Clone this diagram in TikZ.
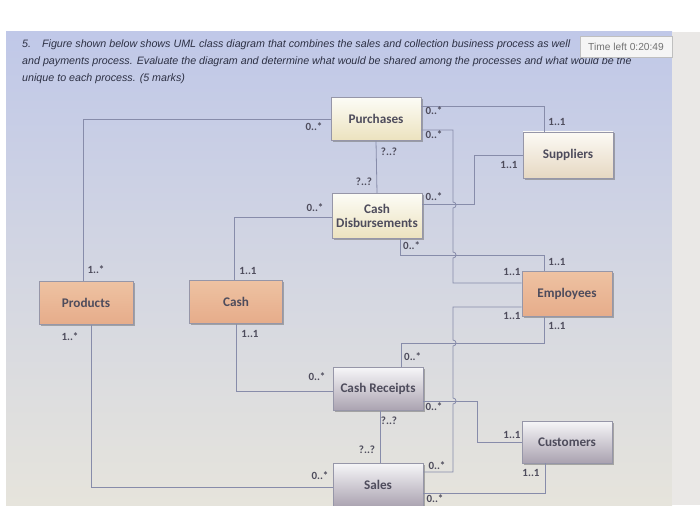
\documentclass[tikz,border=0pt]{standalone}
\usepackage{fontspec}
\setmainfont{Liberation Sans}
\newfontfamily\boxfont{Carlito}
\usetikzlibrary{shadows}

\definecolor{linegray}{RGB}{135,140,170}
\definecolor{labgray}{RGB}{78,76,92}
\definecolor{qtext}{RGB}{45,48,68}
\definecolor{boxedge}{RGB}{150,150,168}
\definecolor{screentop}{RGB}{192,200,232}
\definecolor{screenmid}{RGB}{236,238,241}
\definecolor{screenbot}{RGB}{230,228,220}
\definecolor{bezel}{RGB}{234,232,230}
\definecolor{creamtop}{RGB}{252,252,246}
\definecolor{creambot}{RGB}{236,226,190}
\definecolor{beigetop}{RGB}{252,250,245}
\definecolor{beigebot}{RGB}{230,216,194}
\definecolor{salmontop}{RGB}{238,194,162}
\definecolor{salmonbot}{RGB}{230,172,138}
\definecolor{greytop}{RGB}{246,246,248}
\definecolor{greybot}{RGB}{170,162,176}

\begin{document}
\begin{tikzpicture}[
    x=1pt, y=-1pt,
    cls/.style={rectangle, draw=boxedge, line width=0.6pt, minimum width=90pt, minimum height=43pt, align=center, text=labgray, font=\boxfont\bfseries\fontsize{13.2}{14}\selectfont, drop shadow={shadow xshift=1.5pt, shadow yshift=-1.5pt, fill=black!55, opacity=0.55}},
    cream/.style={cls, top color=creamtop, bottom color=creambot},
    beige/.style={cls, top color=beigetop, bottom color=beigebot},
    salmon/.style={cls, top color=salmontop, bottom color=salmonbot},
    grey/.style={cls, top color=greytop, bottom color=greybot},
    mult/.style={inner sep=0pt, text=labgray, font=\boxfont\bfseries\fontsize{11}{12}\selectfont},
    conn/.style={draw=linegray, line width=0.8pt},
    qline/.style={anchor=west, inner sep=0pt, text=qtext, font=\itshape\fontsize{10.7}{12}\selectfont}
]
    % screen and margins
    \useasboundingbox (0,0) rectangle (700,505);
    \fill[white] (0,0) rectangle (700,505);
    \shade[top color=screentop, middle color=screenmid, bottom color=screenbot] (6,32) rectangle (672,505);
    \fill[bezel] (672,32) rectangle (700,505);

    % question
    \node[qline] (q1) at (22,45) {5.\hspace{11pt}Figure shown below shows UML class diagram that combines the sales and collection business process as well};
    \node[qline] (q2) at (22,62) {and payments process. Evaluate the diagram and determine what would be shared among the processes and what would be the};
    \node[qline] (q3) at (22,79) {unique to each process. (5 marks)};
    \node[draw=black!25, fill=white!96!black, minimum width=92pt, minimum height=21pt, inner sep=0pt, text=black!55, font=\fontsize{10.2}{11}\selectfont] (timer) at (626,47) {Time left 0:20:49};

    % classes
    \node[cream] (pur) at (376,119) {Purchases};
    \node[cream, minimum height=45pt] (cd) at (377,216) {Cash\\Disbursements};
    \node[beige, minimum height=46pt] (sup) at (568,155) {Suppliers};
    \node[salmon, minimum height=45pt] (emp) at (567,294) {Employees};
    \node[grey] (cr) at (378,389) {Cash Receipts};
    \node[grey, minimum height=42pt] (cus) at (567,442) {Customers};
    \node[grey, minimum height=44pt] (sal) at (378,485) {Sales};
    \node[salmon, minimum width=94pt] (prod) at (86,303) {Products};
    \node[salmon, minimum width=93pt] (cash) at (236,302) {Cash};

    % associations
    \draw[conn] (pur.west) -| ([xshift=-3pt]prod.north);
    \draw[conn] ([yshift=-1pt]cd.west) -| ([xshift=-2pt]cash.north);
    \draw[conn] (pur.south) -- (cd.north);
    \draw[conn] ([yshift=13pt]pur.east) -| ([xshift=-24pt]sup.north);
    \draw[conn] ([yshift=-11pt]pur.east) -- (453,130) -- (453,202) .. controls (457,202) and (457,208) .. (453,208) -- (453,252) .. controls (457,252) and (457,258) .. (453,258) -- (453,283) -- ([yshift=11pt]emp.west);
    \draw[conn] ([yshift=12pt]cd.east) -- (474,204) |- (sup.west);
    \draw[conn] ([xshift=23pt]cd.south) |- (544,255) -- ([xshift=-23pt]emp.north);
    \draw[conn] ([xshift=23pt]cr.north) |- (544,343) -- ([xshift=-23pt]emp.south);
    \draw[conn] ([yshift=13pt]sal.east) -- (453,472) -- (453,404) .. controls (457,404) and (457,398) .. (453,398) -- (453,346) .. controls (457,346) and (457,340) .. (453,340) -- (453,307) -- ([yshift=-13pt]emp.west);
    \draw[conn] ([yshift=-2pt]cr.west) -| (cash.south);
    \draw[conn] ([yshift=-12pt]cr.east) -- (477,401) |- (cus.west);
    \draw[conn] ([xshift=2pt]cr.south) -- ([xshift=2pt]sal.north);
    \draw[conn] ([yshift=-2pt]sal.west) -| ([xshift=5pt]prod.south);
    \draw[conn] ([yshift=-8pt]sal.east) -| ([xshift=-22pt]cus.south);

    % multiplicities
    \node[mult] (m1a) at (314,127) {0..*};
    \node[mult] (m1b) at (96,270) {1..*};
    \node[mult] (m2a) at (315,208) {0..*};
    \node[mult] (m2b) at (248,271) {1..1};
    \node[mult] (m3a) at (389,152) {?..?};
    \node[mult] (m3b) at (364,182) {?..?};
    \node[mult] (m4a) at (434,111) {0..*};
    \node[mult] (m4b) at (557,122) {1..1};
    \node[mult] (m5a) at (434,135) {0..*};
    \node[mult] (m5b) at (512,272) {1..1};
    \node[mult] (m6a) at (434,197) {0..*};
    \node[mult] (m6b) at (509,165) {1..1};
    \node[mult, anchor=west] (m7a) at (403,246) {0..*};
    \node[mult] (m7b) at (557,262) {1..1};
    \node[mult, anchor=west] (m8a) at (404,357) {0..*};
    \node[mult] (m8b) at (557,326) {1..1};
    \node[mult] (m9a) at (437,466) {0..*};
    \node[mult] (m9b) at (512,316) {1..1};
    \node[mult] (m10a) at (317,377) {0..*};
    \node[mult] (m10b) at (250,334) {1..1};
    \node[mult] (m11a) at (434,407) {0..*};
    \node[mult] (m11b) at (512,435) {1..1};
    \node[mult] (m12a) at (389,421) {?..?};
    \node[mult] (m12b) at (367,450) {?..?};
    \node[mult] (m13a) at (320,476) {0..*};
    \node[mult] (m13b) at (70,337) {1..*};
    \node[mult] (m14a) at (435,499) {0..*};
    \node[mult] (m14b) at (531,473) {1..1};
\end{tikzpicture}
\end{document}
